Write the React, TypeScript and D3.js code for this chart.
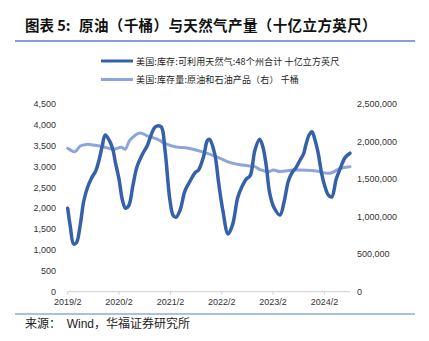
import React from "react";
import * as d3 from "d3";

const gasDates = [
  "2019-02-01","2019-02-20","2019-03-15","2019-04-05","2019-05-01","2019-05-25","2019-06-20","2019-07-20","2019-08-20","2019-09-10","2019-10-05","2019-10-26","2019-11-25","2019-12-20",
  "2020-01-05","2020-02-01","2020-02-25","2020-03-18","2020-04-10","2020-05-10","2020-06-08","2020-07-20","2020-08-20","2020-09-12","2020-10-10","2020-10-30","2020-11-28","2020-12-24",
  "2021-01-28","2021-02-20","2021-03-12","2021-04-10","2021-05-15","2021-06-20","2021-07-25","2021-08-20","2021-09-25","2021-10-22","2021-11-06","2021-12-12",
  "2022-01-10","2022-02-08","2022-03-18","2022-04-20","2022-05-25","2022-06-25","2022-07-25","2022-08-22","2022-09-25","2022-10-28","2022-11-20","2022-12-15",
  "2023-01-08","2023-02-10","2023-03-22","2023-04-20","2023-05-20","2023-06-15","2023-07-15","2023-08-12","2023-09-05","2023-09-22","2023-10-15","2023-11-04","2023-11-25","2023-12-19",
  "2024-01-12","2024-02-05","2024-02-29","2024-03-24","2024-04-25","2024-05-23","2024-06-28","2024-08-01"
];
const gasValues = [
  2000,1550,1143,1180,1600,2150,2480,2720,2900,3130,3500,3757,3620,3400,
  3117,2700,2200,2000,2060,2550,2997,3318,3500,3717,3930,3973,3950,3400,
  2200,1830,1783,1950,2420,2650,2850,2918,3250,3630,3654,3318,
  2600,1959,1383,1620,2250,2520,2700,2780,3398,3654,3477,3000,
  2359,2000,1839,2150,2650,2850,2980,3157,3300,3517,3757,3837,3650,3318,
  2838,2518,2318,2270,2700,2950,3220,3320
];

const oilDates = [
  "2019-02-01","2019-03-24","2019-05-01","2019-06-15","2019-08-01","2019-10-12","2019-12-22",
  "2020-02-20","2020-03-15","2020-04-19","2020-06-29","2020-08-15","2020-10-26","2020-12-24",
  "2021-03-05","2021-06-08","2021-09-11","2021-12-14",
  "2022-03-18","2022-06-21","2022-09-24","2022-10-31","2022-12-29",
  "2023-02-04","2023-03-22","2023-06-25","2023-09-27","2023-12-06",
  "2024-03-11","2024-05-23","2024-08-01"
];
const oilValues = [
  1910000,1865000,1940000,1962000,1954000,1931000,1897000,
  1923000,1897000,2020000,2115000,2080000,2035000,1976000,
  1931000,1910000,1865000,1807000,
  1730000,1687000,1665000,1625000,1600000,
  1620000,1600000,1620000,1618000,1607000,
  1577000,1643000,1665000
];

const leftTicks = [0, 500, 1000, 1500, 2000, 2500, 3000, 3500, 4000, 4500];
const rightTicks = [0, 500000, 1000000, 1500000, 2000000, 2500000];
const xTickLabels = ["2019/2", "2020/2", "2021/2", "2022/2", "2023/2", "2024/2"];

const legendGas = "美国:库存:可利用天然气:48个州合计 十亿立方英尺";
const legendOil = "美国:库存量:原油和石油产品（右） 千桶";
const titleHead = "图表 5: ";
const titleBody = "原油（千桶）与天然气产量（十亿立方英尺）";

export default function App() {
  const W = 429, H = 341;
  const x0 = 67.7, x1 = 350;
  const yTop = 104, yBot = 291.7;
  const parse = d3.timeParse("%Y-%m-%d");
  const x = d3.scaleTime().domain([parse("2019-02-01")!, parse("2024-08-01")!]).range([x0, x1]);
  const yL = d3.scaleLinear().domain([0, 4500]).range([yBot, yTop]);
  const yR = d3.scaleLinear().domain([0, 2500000]).range([yBot, yTop]);

  const gas = gasDates.map((d, i) => ({ d: parse(d)!, v: gasValues[i] }));
  const oil = oilDates.map((d, i) => ({ d: parse(d)!, v: oilValues[i] }));
  const gasLine = d3.line<{ d: Date; v: number }>().x(p => x(p.d)).y(p => yL(p.v)).curve(d3.curveCatmullRom.alpha(0.5));
  const oilLine = d3.line<{ d: Date; v: number }>().x(p => x(p.d)).y(p => yR(p.v)).curve(d3.curveCatmullRom.alpha(0.5));
  const fmt = d3.format(",");
  const xTicks = xTickLabels.map(l => {
    const [yy, mm] = l.split("/");
    return { l, d: new Date(+yy, +mm - 1, 1) };
  });
  const tickFont = "'Liberation Sans', Arial, sans-serif";
  const cjk = "'Noto Sans CJK SC', sans-serif";

  return (
    <svg width={W} height={H} style={{ position: "absolute", left: 0, top: 0, background: "#fff" }}>
      <rect width={W} height={H} fill="#fff" />
      <text x={25} y={30.5} fontFamily={cjk} fontWeight="bold" fontSize={14.5} fill="#111">
        <tspan>{titleHead}</tspan>
        <tspan x={79} letterSpacing={0.4}>{titleBody}</tspan>
      </text>
      <line x1={15} x2={415} y1={41} y2={41} stroke="#5a7fc4" strokeWidth={1.5} />

      <line x1={101} x2={133} y1={61} y2={61} stroke="#3560aa" strokeWidth={3} />
      <text x={136} y={64.5} fontFamily={cjk} fontSize={9} letterSpacing={0.15} fill="#222">{legendGas}</text>
      <line x1={101} x2={133} y1={79.5} y2={79.5} stroke="#8ea4da" strokeWidth={3} />
      <text x={136} y={83} fontFamily={cjk} fontSize={9} letterSpacing={0.15} fill="#222">{legendOil}</text>

      <line x1={x0} x2={x1} y1={yBot} y2={yBot} stroke="#d0d0d0" strokeWidth={1} />
      {xTicks.map(t => (
        <g key={t.l}>
          <line x1={x(t.d)} x2={x(t.d)} y1={yBot} y2={yBot + 3} stroke="#d0d0d0" />
          <text x={x(t.d)} y={305} textAnchor="middle" fontFamily={tickFont} fontSize={9} fill="#333">{t.l}</text>
        </g>
      ))}
      {leftTicks.map(t => (
        <text key={t} x={56} y={yL(t) + 3.2} textAnchor="end" fontFamily={tickFont} fontSize={9} fill="#333">{fmt(t)}</text>
      ))}
      {rightTicks.map(t => (
        <text key={t} x={357} y={yR(t) + 3.2} textAnchor="start" fontFamily={tickFont} fontSize={9} fill="#333">{fmt(t)}</text>
      ))}

      <path d={oilLine(oil) || ""} fill="none" stroke="#8ea4da" strokeWidth={3} strokeLinejoin="round" strokeLinecap="round" />
      <path d={gasLine(gas) || ""} fill="none" stroke="#3560aa" strokeWidth={3.5} strokeLinejoin="round" strokeLinecap="round" />

      <line x1={15} x2={415} y1={314} y2={314} stroke="#5a7fc4" strokeWidth={1.2} />
      <text x={25} y={327.5} fontFamily={cjk} fontSize={12} fill="#222">来源：</text>
      <text x={66.7} y={327.5} fontFamily={cjk} fontSize={12} fill="#222">
        <tspan fontFamily={tickFont}>Wind</tspan>，华福证券研究所
      </text>
    </svg>
  );
}
